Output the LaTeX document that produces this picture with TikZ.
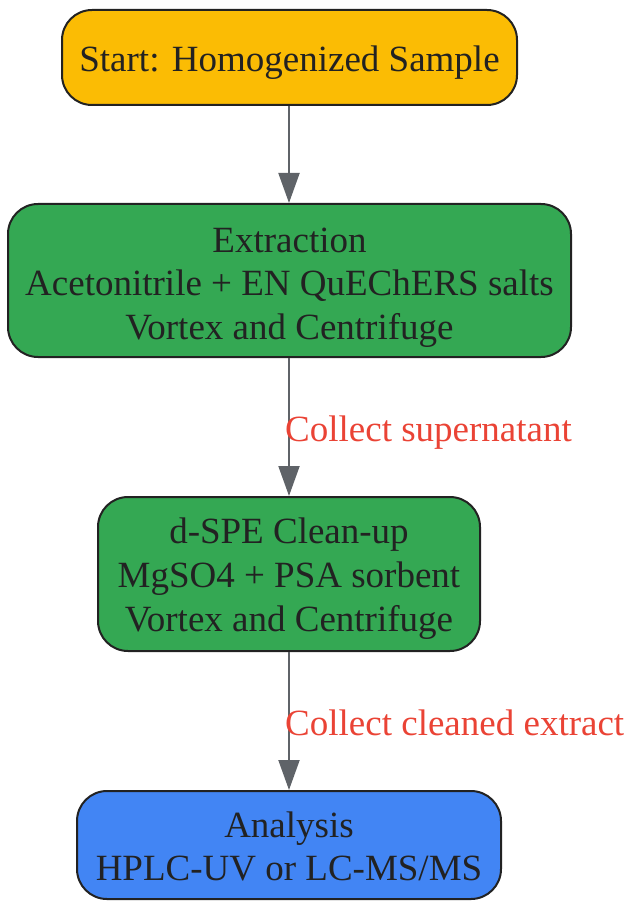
\documentclass[tikz,border=0pt]{standalone}
\usepackage{fontspec}
\setmainfont{Liberation Serif}
\usetikzlibrary{arrows.meta}
\definecolor{yel}{HTML}{FBBC04}
\definecolor{grn}{HTML}{34A853}
\definecolor{blu}{HTML}{4285F4}
\definecolor{edge}{HTML}{5F6368}
\definecolor{lbl}{HTML}{EA4335}
\definecolor{txt}{HTML}{222222}
\definecolor{brd}{HTML}{222222}
\tikzset{
  box/.style={draw=brd, line width=2pt, rounded corners=30pt, inner sep=0pt},
  line/.style={text=txt, anchor=base, inner sep=0pt, font=\fontsize{37}{44}\selectfont},
  conn/.style={draw=edge, line width=2pt, -{Triangle[width=21pt,length=30pt]}},
  elabel/.style={text=lbl, anchor=base west, inner sep=0pt, font=\fontsize{37}{44}\selectfont}
}
\begin{document}
\begin{tikzpicture}[x=1pt,y=-1pt]
\useasboundingbox (0,0) rectangle (628,901);
\node[box, fill=yel, minimum width=455pt, minimum height=95pt] (start) at (289.5,57.5) {};
\node[box, fill=grn, minimum width=563pt, minimum height=153pt] (ext) at (289.5,280.5) {};
\node[box, fill=grn, minimum width=382pt, minimum height=154pt] (dspe) at (289,574) {};
\node[box, fill=blu, minimum width=424pt, minimum height=108pt] (ana) at (289,845) {};
\node[line] (start-1) at (289.5,72) {Start: Homogenized Sample};
\node[line] (ext-1) at (289.5,252) {Extraction};
\node[line] (ext-2) at (289.5,295.5) {Acetonitrile + EN QuEChERS salts};
\node[line] (ext-3) at (289.5,339) {Vortex and Centrifuge};
\node[line] (dspe-1) at (289,543.5) {d-SPE Clean-up};
\node[line] (dspe-2) at (289,587.5) {MgSO4 + PSA sorbent};
\node[line] (dspe-3) at (289,631.5) {Vortex and Centrifuge};
\node[line] (ana-1) at (289,837) {Analysis};
\node[line] (ana-2) at (289,880.5) {HPLC-UV or LC-MS/MS};
\draw[conn] (start.south -| 289,0) -- (ext.north -| 289,0);
\draw[conn] (ext.south -| 289,0) -- (dspe.north -| 289,0);
\draw[conn] (dspe.south -| 289,0) -- (ana.north -| 289,0);
\node[elabel] (l1) at (285,441.5) {Collect supernatant};
\node[elabel] (l2) at (285,735) {Collect cleaned extract};
\end{tikzpicture}
\end{document}
